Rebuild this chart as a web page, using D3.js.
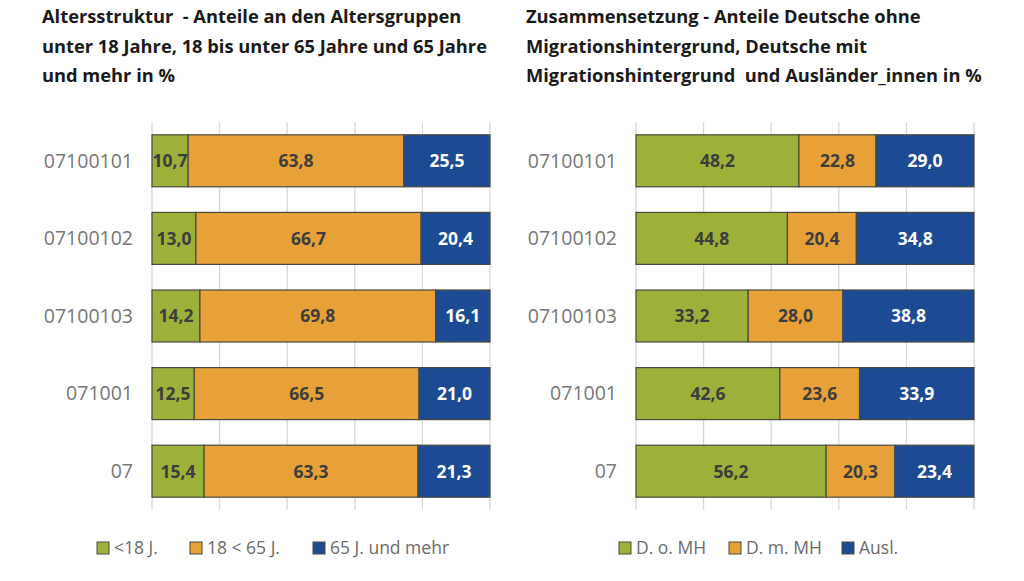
<!DOCTYPE html>
<html>
<head>
<meta charset="utf-8">
<script src="https://cdn.jsdelivr.net/npm/d3@7"></script>
<style>
  body { margin: 0; background: #fff; }
  .title { font-family: "Open Sans", sans-serif; font-weight: 700; font-size: 18.3px; fill: #1a1a1a; }
  .cat { font-family: "Open Sans", sans-serif; font-size: 19.5px; fill: #777; }
  .val { font-family: "Open Sans", sans-serif; font-weight: 700; font-size: 17.5px; }
  .leg { font-family: "Open Sans", sans-serif; font-size: 17.5px; fill: #6b6b6b; }
</style>
</head>
<body>
<div id="chart"></div>
<script>
// categories (top to bottom)
var categories = ["07100101", "07100102", "07100103", "071001", "07"];

// Altersstruktur
var ageKeys = ["<18 J.", "18 < 65 J.", "65 J. und mehr"];
var ageUnder18 = [10.7, 13.0, 14.2, 12.5, 15.4];
var age18to65 = [63.8, 66.7, 69.8, 66.5, 63.3];
var age65plus = [25.5, 20.4, 16.1, 21.0, 21.3];

// Zusammensetzung
var migKeys = ["D. o. MH", "D. m. MH", "Ausl."];
var migOhne = [48.2, 44.8, 33.2, 42.6, 56.2];
var migMit = [22.8, 20.4, 28.0, 23.6, 20.3];
var migAusl = [29.0, 34.8, 38.8, 33.9, 23.4];

var ticks = [0, 20, 40, 60, 80, 100];
var colours = ["#9cb03a", "#e8a139", "#1c4a93"];
var textColours = ["#3d3d3d", "#3d3d3d", "#ffffff"];

var width = 1024, height = 581;

const svg = d3.select("#chart").append("svg")
  .attr("width", width)
  .attr("height", height);

function addPanel(cfg) {
  var rows = categories.map((c, i) => {
    var r = { cat: c };
    cfg.keys.forEach((k, j) => r[k] = cfg.series[j][i]);
    return r;
  });

  var stack = d3.stack().keys(cfg.keys).offset(d3.stackOffsetExpand);
  var layers = stack(rows);

  let x = d3.scaleLinear()
    .domain([0, 1])
    .range([cfg.left, cfg.right]);

  let y = d3.scaleBand()
    .domain(categories)
    .range([122, 510])
    .paddingInner(0.33)
    .paddingOuter(0.165);

  let g = svg.append("g");

  // title
  let title = g.append("text")
    .attr("class", "title")
    .attr("x", cfg.titleX)
    .attr("y", 23);
  cfg.title.forEach((line, i) => {
    title.append("tspan")
      .attr("x", cfg.titleX)
      .attr("y", 23 + i * 29.5)
      .attr("xml:space", "preserve")
      .text(line);
  });

  // grid
  g.selectAll("line.grid")
    .data(ticks)
    .enter()
    .append("line")
    .attr("class", "grid")
    .attr("x1", d => x(d / 100))
    .attr("x2", d => x(d / 100))
    .attr("y1", 122)
    .attr("y2", 510)
    .style("stroke", "#d9d9d9")
    .style("stroke-width", 1.3);

  // category labels
  g.selectAll("text.cat")
    .data(categories)
    .enter()
    .append("text")
    .attr("class", "cat")
    .attr("x", cfg.left - 19)
    .attr("y", d => y(d) + y.bandwidth() / 2)
    .attr("dy", "0.35em")
    .style("text-anchor", "end")
    .text(d => d);

  // bars
  let layer = g.selectAll("g.layer")
    .data(layers)
    .enter()
    .append("g")
    .attr("class", "layer");

  layer.selectAll("rect")
    .data(d => d)
    .enter()
    .append("rect")
    .attr("x", d => x(d[0]))
    .attr("width", d => x(d[1]) - x(d[0]))
    .attr("y", d => y(d.data.cat))
    .attr("height", y.bandwidth())
    .style("fill", function() { return colours[d3.select(this.parentNode).datum().index]; })
    .style("stroke", "#4a4a40")
    .style("stroke-width", 1.2);

  layer.selectAll("text")
    .data(d => d.map(p => ({ p: p, key: d.key, index: d.index })))
    .enter()
    .append("text")
    .attr("class", "val")
    .attr("x", d => (x(d.p[0]) + x(d.p[1])) / 2)
    .attr("y", d => y(d.p.data.cat) + y.bandwidth() / 2)
    .attr("dy", "0.36em")
    .style("text-anchor", "middle")
    .style("fill", d => textColours[d.index])
    .text(d => d3.format(".1f")(d.p.data[d.key]).replace(".", ","));

  // legend
  let leg = g.selectAll("g.leg")
    .data(cfg.keys)
    .enter()
    .append("g")
    .attr("class", "leg")
    .attr("transform", (d, i) => `translate(${cfg.legendX[i]}, 542)`);

  leg.append("rect")
    .attr("width", 12)
    .attr("height", 12)
    .style("fill", (d, i) => colours[i])
    .style("stroke", "#4a4a40")
    .style("stroke-width", 1);

  leg.append("text")
    .attr("class", "leg")
    .attr("x", 17)
    .attr("y", 6)
    .attr("dy", "0.36em")
    .text(d => d);
}

addPanel({
  keys: ageKeys,
  series: [ageUnder18, age18to65, age65plus],
  left: 152, right: 490,
  titleX: 42,
  title: ["Altersstruktur  - Anteile an den Altersgruppen",
          "unter 18 Jahre, 18 bis unter 65 Jahre und 65 Jahre",
          "und mehr in %"],
  legendX: [97, 190, 313]
});

addPanel({
  keys: migKeys,
  series: [migOhne, migMit, migAusl],
  left: 636, right: 974,
  titleX: 526,
  title: ["Zusammensetzung - Anteile Deutsche ohne",
          "Migrationshintergrund, Deutsche mit",
          "Migrationshintergrund  und Ausländer_innen in %"],
  legendX: [619, 729, 842]
});
</script>
</body>
</html>
